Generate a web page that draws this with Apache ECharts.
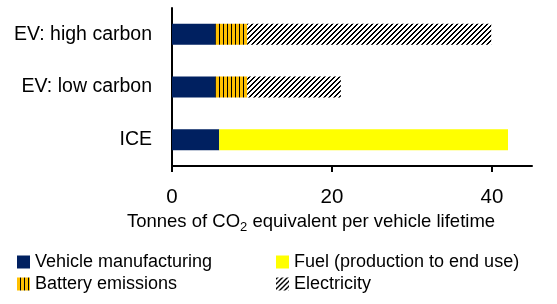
<!DOCTYPE html>
<html>
<head>
<meta charset="utf-8">
<script src="https://cdn.jsdelivr.net/npm/echarts@6/dist/echarts.min.js"></script>
<style>
  html, body { margin: 0; padding: 0; background: #fff; }
  #chart { width: 557px; height: 304px; }
</style>
</head>
<body>
<div id="chart"></div>
<script>
// categories bottom -> top
const categories = ['ICE', 'EV: low carbon', 'EV: high carbon'];
const vehicleManufacturing = [5.9, 5.4, 5.4];
const batteryEmissions = ['-', 4.0, 4.0];
const fuel = [36.1, '-', '-'];
const electricity = ['-', 11.7, 30.5];
const xTicks = [0, 20, 40];

const FONT = '"Liberation Sans", Arial, sans-serif';

// vertical orange/black stripes
function stripePattern() {
  const c = document.createElement('canvas');
  c.width = 4; c.height = 4;
  const ctx = c.getContext('2d');
  ctx.fillStyle = '#FFC000';
  ctx.fillRect(0, 0, 4, 4);
  ctx.fillStyle = '#000';
  ctx.fillRect(3, 0, 1, 4);
  return c;
}

// black/white diagonal hatch "/"
function hatchPattern() {
  const n = 5;
  const c = document.createElement('canvas');
  c.width = n; c.height = n;
  const ctx = c.getContext('2d');
  ctx.fillStyle = '#fff';
  ctx.fillRect(0, 0, n, n);
  ctx.fillStyle = '#000';
  for (let y = 0; y < n; y++) {
    for (let x = 0; x < n; x++) {
      if ((x + y) % n < 2) ctx.fillRect(x, y, 1, 1);
    }
  }
  return c;
}

const chart = echarts.init(document.getElementById('chart'));

const legendBase = {
  orient: 'vertical',
  top: 253,
  padding: 0,
  itemWidth: 13,
  itemHeight: 13,
  itemGap: 4,
  icon: 'rect',
  textStyle: { fontFamily: FONT, fontSize: 18, color: '#000', lineHeight: 18 }
};

chart.setOption({
  animation: false,
  textStyle: { fontFamily: FONT },
  grid: { left: 172, right: 25, top: 8, bottom: 138 },
  legend: [
    Object.assign({}, legendBase, { left: 17, data: ['Vehicle manufacturing', 'Battery emissions'] }),
    Object.assign({}, legendBase, { left: 276, data: ['Fuel (production to end use)', 'Electricity'] })
  ],
  xAxis: {
    type: 'value',
    min: 0,
    max: 45,
    interval: 20,
    splitLine: { show: false },
    axisLine: { show: true, lineStyle: { color: '#000', width: 2 } },
    axisTick: { show: true, length: 6, lineStyle: { color: '#000', width: 2 }, customValues: xTicks },
    axisLabel: { fontSize: 20.5, color: '#000', margin: 21, customValues: xTicks },
    name: '{n|Tonnes of CO}{s|2}{n| equivalent per vehicle lifetime}',
    nameLocation: 'middle',
    nameGap: 44,
    nameTextStyle: {
      padding: [0, 82, 0, 0],
      rich: {
        n: { fontSize: 18.5, color: '#000', fontFamily: FONT },
        s: { fontSize: 13, color: '#000', fontFamily: FONT, padding: [10, 0, 0, 0] }
      }
    }
  },
  yAxis: {
    type: 'category',
    data: categories,
    axisLine: { show: true, lineStyle: { color: '#000', width: 2 } },
    axisTick: { show: false },
    axisLabel: { fontSize: 19.5, color: '#000', margin: 20 }
  },
  series: [
    { name: 'Vehicle manufacturing', type: 'bar', stack: 't', barWidth: 21,
      itemStyle: { color: '#002060' }, data: vehicleManufacturing },
    { name: 'Battery emissions', type: 'bar', stack: 't', barWidth: 21,
      itemStyle: { color: { image: stripePattern(), repeat: 'repeat' } }, data: batteryEmissions },
    { name: 'Fuel (production to end use)', type: 'bar', stack: 't', barWidth: 21,
      itemStyle: { color: '#FFFF00' }, data: fuel },
    { name: 'Electricity', type: 'bar', stack: 't', barWidth: 21,
      itemStyle: { color: { image: hatchPattern(), repeat: 'repeat' } }, data: electricity }
  ]
});
</script>
</body>
</html>
